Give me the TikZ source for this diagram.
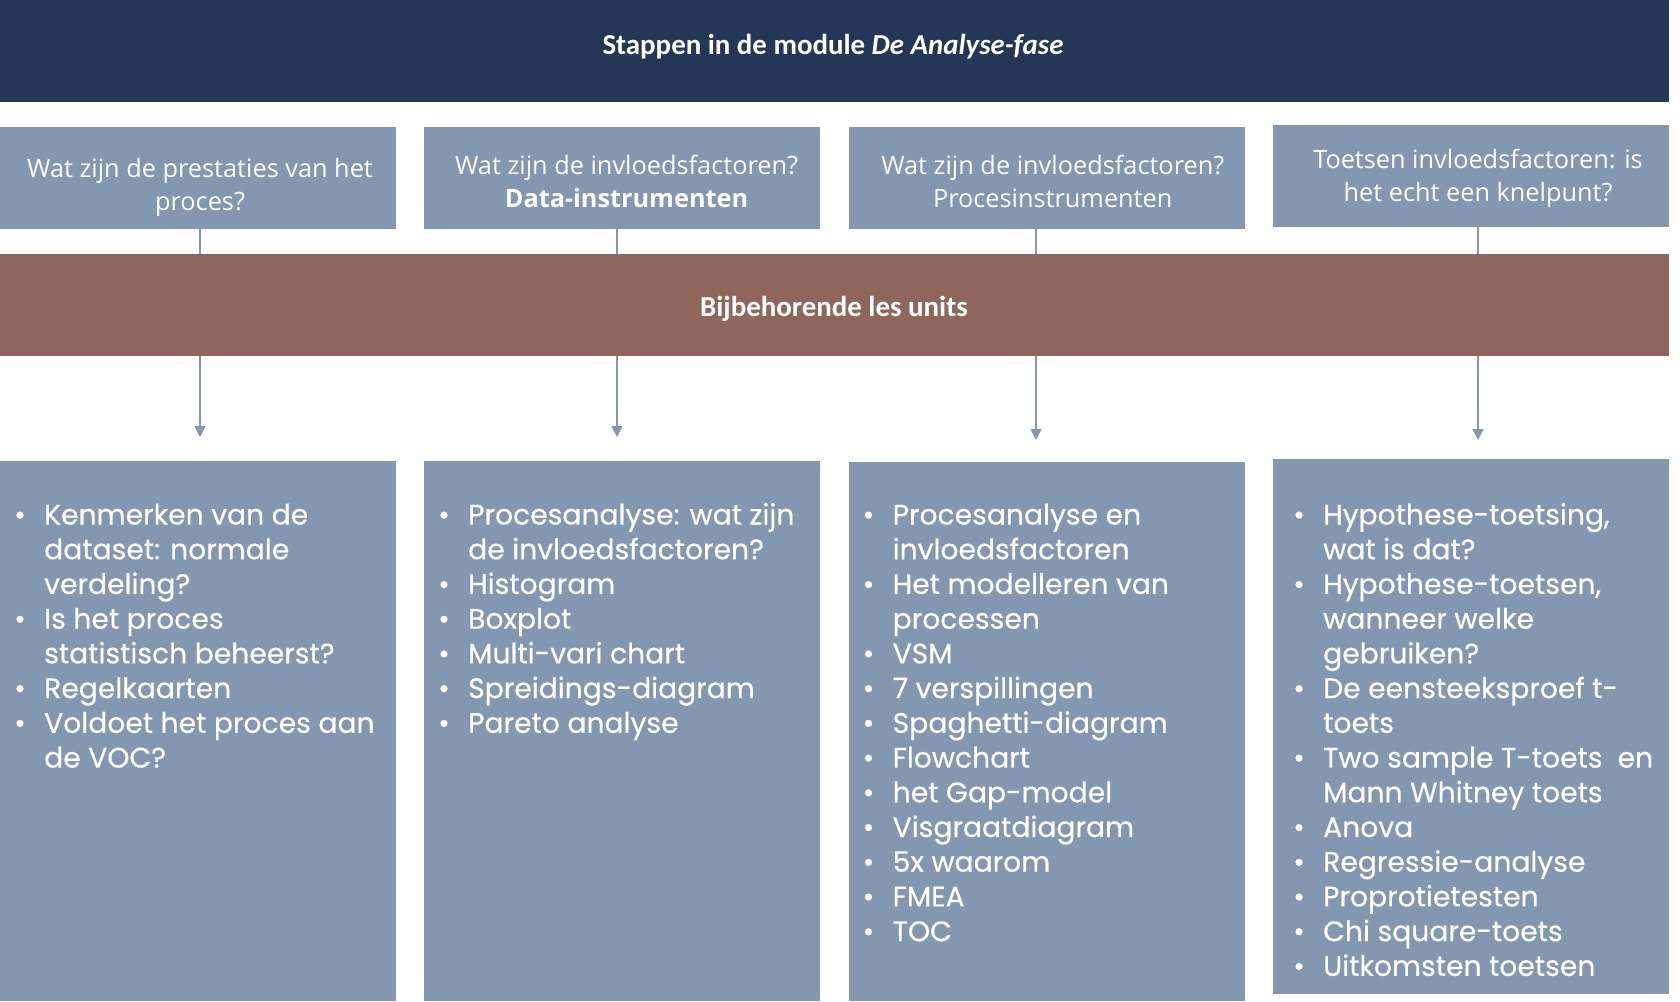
\documentclass[tikz,border=0pt]{standalone}
\usepackage{fontspec}
\setmainfont{Carlito}
\newfontfamily\osans{Open Sans}
\newfontfamily\pop{Poppins}[FakeBold=0.4]
\usetikzlibrary{arrows.meta,backgrounds}
\definecolor{navy}{HTML}{243756}
\definecolor{boxc}{HTML}{8497B0}
\definecolor{brownc}{HTML}{8F665B}
\definecolor{linec}{HTML}{8497B0}
\newcommand\bi[1]{\strut\makebox[30bp][l]{•}#1}
\newcommand\bc[1]{\strut\hspace*{30bp}#1}
\begin{document}
\begin{tikzpicture}[x=1bp,y=-1bp,
  bar/.style={rectangle,inner sep=0,outer sep=0,anchor=north west},
  qbox/.style={rectangle,fill=boxc,inner sep=0,outer sep=0,anchor=north west,minimum width=396bp,minimum height=102bp},
  lbox/.style={rectangle,fill=boxc,inner sep=0,outer sep=0,anchor=north west,minimum width=396bp},
  barlabel/.style={text=white,font=\fontsize{29}{34}\selectfont\bfseries},
  qtext/.style={text=white,align=center,inner sep=0,font=\osans\fontsize{25.4}{34}\selectfont},
  ltext/.style={text=white,align=left,inner sep=0,anchor=north west,font=\pop\fontsize{28.3}{34.85}\selectfont},
  conn/.style={draw=linec,line width=1.5bp,-{Triangle[width=11bp,length=11bp]}}
]
\useasboundingbox (0,0) rectangle (1680,1001);
% header
\node[bar,fill=navy,minimum width=1669bp,minimum height=102bp] (head) at (0,0) {};
\node[barlabel] (headt) at (833,47) {Stappen in de module \textit{De Analyse-fase}};
% question boxes
\node[qbox] (q1) at (0,126.7) {};
\node[qbox] (q2) at (424.3,126.7) {};
\node[qbox] (q3) at (848.6,126.7) {};
\node[qbox] (q4) at (1272.9,125) {};
\node[qtext] (q1t) at (200,187.2) {\strut Wat zijn de prestaties van het\\\strut proces?};
\node[qtext] (q2t) at (626.5,184.2) {\strut Wat zijn de invloedsfactoren?\\\strut\textbf{Data-instrumenten}};
\node[qtext] (q3t) at (1052.7,184.2) {\strut Wat zijn de invloedsfactoren?\\\strut Procesinstrumenten};
\node[qtext] (q4t) at (1478,178.2) {\strut Toetsen invloedsfactoren: is\\\strut het echt een knelpunt?};
% brown bar
\node[bar,fill=brownc,minimum width=1669bp,minimum height=102bp] (units) at (0,254) {};
\node[barlabel] (unitst) at (834,309) {Bijbehorende les units};
% list boxes
\node[lbox,minimum height=540bp] (l1) at (0,461) {};
\node[lbox,minimum height=540bp] (l2) at (424.3,461) {};
\node[lbox,minimum height=539bp] (l3) at (848.6,462) {};
\node[lbox,minimum height=535bp] (l4) at (1272.9,459) {};
% arrow end points
\coordinate (a1) at (200,437);
\coordinate (a2) at (617,437);
\coordinate (a3) at (1036,440);
\coordinate (a4) at (1478,440);
\begin{pgfonlayer}{background}
\draw[conn] (q1.south -| a1) -- (a1);
\draw[conn] (q2.south -| a2) -- (a2);
\draw[conn] (q3.south -| a3) -- (a3);
\draw[conn] (q4.south -| a4) -- (a4);
\end{pgfonlayer}
% lists
\node[ltext] (l1t) at (14,500) {\bi{Kenmerken van de}\\\bc{dataset: normale}\\\bc{verdeling?}\\\bi{Is het proces}\\\bc{statistisch beheerst?}\\\bi{Regelkaarten}\\\bi{Voldoet het proces aan}\\\bc{de VOC?}};
\node[ltext] (l2t) at (438,500) {\bi{Procesanalyse: wat zijn}\\\bc{de invloedsfactoren?}\\\bi{Histogram}\\\bi{Boxplot}\\\bi{Multi-vari chart}\\\bi{Spreidings-diagram}\\\bi{Pareto analyse}};
\node[ltext] (l3t) at (862.5,500) {\bi{Procesanalyse en}\\\bc{invloedsfactoren}\\\bi{Het modelleren van}\\\bc{processen}\\\bi{VSM}\\\bi{7 verspillingen}\\\bi{Spaghetti-diagram}\\\bi{Flowchart}\\\bi{het Gap-model}\\\bi{Visgraatdiagram}\\\bi{5x waarom}\\\bi{FMEA}\\\bi{TOC}};
\node[ltext] (l4t) at (1293,500) {\bi{Hypothese-toetsing,}\\\bc{wat is dat?}\\\bi{Hypothese-toetsen,}\\\bc{wanneer welke}\\\bc{gebruiken?}\\\bi{De eensteeksproef t-}\\\bc{toets}\\\bi{Two sample T-toets\ \ en}\\\bc{Mann Whitney toets}\\\bi{Anova}\\\bi{Regressie-analyse}\\\bi{Proprotietesten}\\\bi{Chi square-toets}\\\bi{Uitkomsten toetsen}};
\end{tikzpicture}
\end{document}
